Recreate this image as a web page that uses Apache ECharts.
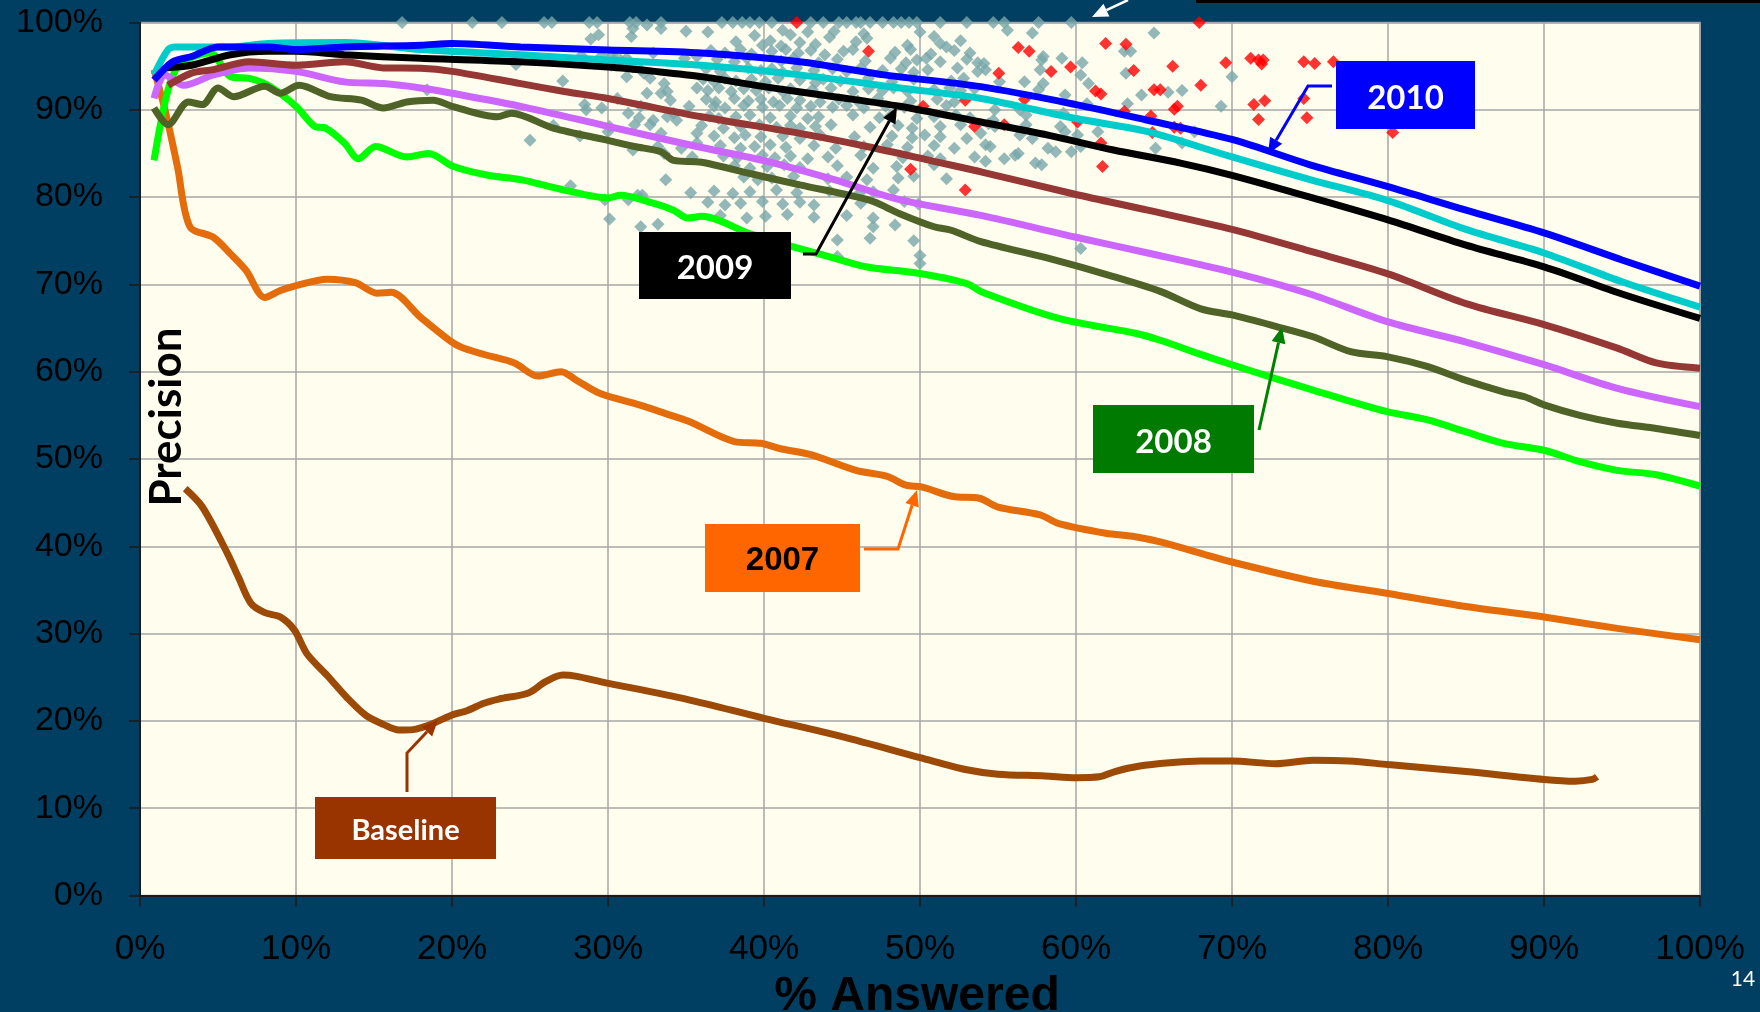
<!DOCTYPE html>
<html>
<head>
<meta charset="utf-8">
<title>Precision vs % Answered</title>
<script src="https://cdn.jsdelivr.net/npm/echarts@6/dist/echarts.min.js"></script>
<style>
  html, body { margin: 0; padding: 0; background: #013f62; }
  #chart { width: 1760px; height: 1012px; }
</style>
</head>
<body>
<div id="chart"></div>
<script>
// % answered (x) vs precision (y)
const run2010 = [[0.9,93.4],[2.1,95.5],[3.3,96.1],[5,97.2],[8.2,97.2],[10,96.9],[13.1,97.2],[18,97.4],[20,97.6],[24.4,97.2],[30,96.85],[36,96.5],[42.3,95.5],[47.7,94.0],[53.9,92.65],[60,90.6],[64.6,88.8],[70,86.6],[75,83.7],[80,81.2],[85,78.5],[90,75.9],[95,72.8],[100,69.8]];
const runCyan = [[0.9,94.0],[1.8,96.9],[2.3,97.2],[5.8,97.2],[8.2,97.6],[13.1,97.7],[18,96.9],[24.4,96.3],[30,95.7],[36,95.1],[42.3,94.0],[48.7,92.5],[53.9,91.3],[60,89.0],[64.6,87.5],[70,84.6],[75,82.0],[80,79.6],[85,76.3],[90,73.6],[95,70.3],[100,67.4]];
const run2009 = [[1.6,94.8],[3.3,95.1],[5.8,96.3],[8.2,96.7],[10,96.7],[13.1,96.3],[18,95.9],[24.4,95.5],[30,94.9],[33,94.4],[36,93.8],[40.2,92.6],[44.5,91.5],[48.7,90.4],[53.9,88.6],[58.2,87.1],[62.4,85.4],[66.7,83.9],[70,82.5],[75,80.0],[80,77.4],[85,74.5],[90,72.0],[95,68.9],[100,66.1]];
const runRed = [[1.8,92.8],[3.3,94.2],[4.7,94.6],[7,95.5],[10,95.1],[13.1,95.5],[15.6,94.8],[18,94.75],[20,94.4],[24.4,93.0],[27.2,92.1],[30,91.3],[36,89.2],[42.3,87.3],[46.6,85.8],[50.9,84.1],[53.9,82.9],[60,80.3],[64.6,78.5],[70,76.3],[75,73.8],[80,71.2],[85,67.8],[90,65.4],[94.7,62.7],[97.2,61.0],[100,60.4]];
const runViolet = [[0.9,91.3],[1.6,94.0],[2.8,92.8],[4.7,94.0],[7,94.8],[10,94.4],[13.1,93.2],[15.6,93.0],[18,92.5],[20,91.9],[24.4,90.4],[30,88.1],[35.7,85.8],[40.2,84.1],[44.5,82.0],[48.7,79.7],[53.9,77.9],[60,75.4],[64.6,73.6],[70,71.4],[75,68.9],[80,65.7],[85,63.4],[90,60.8],[94.7,58.1],[100,56.0]];
const run2008 = [[0.9,90.2],[1.8,88.3],[3.1,90.9],[4,90.6],[5,92.5],[6,91.5],[8,92.7],[9,91.9],[10.2,92.8],[12.2,91.5],[14.2,91.1],[15.6,90.2],[17.1,90.9],[18.8,91.1],[20,90.4],[22.9,89.2],[23.8,89.6],[26.5,87.9],[30,86.5],[31.7,85.8],[33.4,85.2],[34.2,84.2],[36,84.0],[39.1,82.7],[42.3,81.4],[45.5,80.2],[47,79.5],[48.7,78.1],[50.9,76.6],[52,76.2],[53.9,74.9],[58.2,73.0],[62.4,70.9],[65.4,69.2],[68,67.2],[70,66.5],[72.8,65.2],[75.2,64.0],[77.6,62.3],[80,61.7],[82.5,60.6],[85,59.0],[87.4,57.7],[88.8,57.1],[90,56.2],[92.3,55.0],[94.7,54.1],[97.2,53.5],[100,52.7]];
const runGreen = [[0.9,84.2],[1.8,92.3],[2.6,95.3],[4.5,96.5],[5.8,93.8],[7,93.6],[8.2,92.8],[10,90.4],[11.2,88.1],[11.9,87.9],[13.1,86.2],[14,84.4],[15.1,85.8],[17.1,84.6],[18.5,85.0],[20.1,83.5],[22.3,82.5],[24.4,82.0],[27.2,80.8],[30,79.9],[30.8,80.2],[32.9,79.3],[34.2,78.5],[35.1,77.6],[36,77.8],[39.1,75.8],[42.3,74.1],[44.5,73.0],[46.6,72.0],[49.8,71.3],[53,70.1],[54,69.1],[58.9,66.1],[63.8,64.4],[65.4,63.6],[67.8,62.1],[70,60.8],[72.8,59.2],[75.2,57.9],[77.6,56.6],[80,55.4],[82.5,54.5],[85,53.1],[87.4,51.8],[90,51.0],[92.3,49.7],[94.7,48.7],[97.2,48.2],[100,46.9]];
const run2007 = [[0.9,94.6],[1.6,90.0],[2.4,83.5],[3.2,76.6],[4.7,75.4],[5.8,73.5],[6.8,71.6],[8,68.5],[9,69.3],[9.9,69.8],[12,70.6],[13.8,70.2],[15.2,69.0],[16.1,69.1],[18,66.2],[19.9,63.5],[20.6,62.8],[22,62.0],[24,61.0],[25.5,59.5],[27,60.0],[28,59.0],[29.5,57.5],[32,56.2],[33.7,55.2],[35.2,54.3],[38.1,52.0],[39.8,51.8],[41,51.2],[43,50.5],[45.9,48.7],[47.9,48.0],[49.1,47.0],[50.1,46.8],[52.1,45.7],[53.8,45.5],[55,44.5],[57.7,43.6],[58.9,42.6],[61.9,41.5],[63.8,41.1],[65.4,40.5],[68,39.2],[70,38.2],[75.2,36.0],[80,34.6],[85,33.1],[90,31.9],[94.7,30.6],[100,29.3]];
const runBaseline = [[2.9,46.6],[4,44.5],[5.6,39.2],[6.3,36.5],[7.1,33.5],[8,32.4],[9,31.9],[9.9,30.4],[10.7,27.7],[12,25.2],[13.3,22.6],[14.5,20.6],[15.6,19.6],[16.6,18.95],[17.5,19.0],[18.5,19.5],[19.9,20.6],[21,21.2],[22,22.0],[23,22.5],[24.9,23.2],[26,24.5],[27.1,25.25],[28,25.1],[29.5,24.5],[35,22.5],[40,20.3],[45,18.2],[50,15.8],[53,14.4],[55,13.9],[58,13.7],[60,13.5],[61.5,13.6],[62.5,14.2],[64,14.8],[66,15.2],[68,15.4],[70,15.4],[72.8,15.1],[75.2,15.5],[77.5,15.4],[80,15.0],[85,14.2],[90,13.3],[92,13.1],[93.1,13.3],[93.4,13.6]];

// individual runs (grey) and other runs (red)
const greyRuns = [
  [16.8,100],[18.4,92.3],[21.3,100],[23.2,100],[24.1,95.2],[25.0,86.5],[25.9,100],[26.4,100],[26.5,88.2],[27.1,93.3],[27.6,81.3],[28.2,87.0],[28.3,96.2],[28.5,90.6],[28.6,90.0],[28.8,100],[28.9,98.1],[29.3,100],[29.4,98.6],[29.6,96.2],[29.6,90.2],[29.8,79.7],[30.0,87.5],[30.1,88.1],[30.1,77.5],[30.2,95.1],[30.3,96.3],[30.4,95.7],[30.6,91.3],[30.8,95.7],[31.0,95.3],[31.2,95.9],[31.2,93.8],[31.3,89.6],[31.3,79.7],[31.4,100],[31.5,98.4],[31.6,99.3],[31.6,94.9],[31.6,85.4],[31.7,88.3],[31.8,100],[31.9,80.2],[32.0,89.1],[32.1,94.6],[32.1,90.4],[32.1,76.6],[32.2,80.2],[32.3,94.2],[32.5,99.7],[32.5,91.9],[32.7,93.6],[32.7,88.3],[32.9,96.5],[32.9,88.8],[33.2,85.8],[33.2,76.9],[33.4,100],[33.4,99.3],[33.4,91.9],[33.4,87.3],[33.6,93.0],[33.6,85.0],[33.7,82.0],[33.8,92.1],[33.8,89.2],[34.0,91.1],[34.2,89.6],[34.4,88.8],[34.7,85.6],[34.9,95.9],[35.0,99.0],[35.2,90.4],[35.3,80.5],[35.4,84.6],[35.7,96.1],[35.7,92.5],[35.7,87.3],[35.7,86.2],
  [37.3,100],[38.0,100],[38.6,100],[39.1,100],[39.7,100],[40.5,100],[43.0,100],[43.8,100],[44.8,100],[45.3,100],[45.9,100],[46.2,100],[46.8,100],[47.6,100],[48.3,100],[48.8,100],[49.3,100],[49.8,100],[51.3,100],[53.0,100],
  [36.4,98.9],[39.4,98.5],[41.2,99.1],[41.7,98.6],[42.8,98.9],[44.2,98.3],[44.5,99.0],[46.4,98.7],[46.6,98.2],[50.0,98.9],[50.9,98.4],
  [38.2,97.8],[39.9,97.4],[40.4,97.9],[41.1,97.3],[42.3,97.7],[43.3,97.5],[45.9,97.8],[49.2,97.4],[51.3,97.6],[51.7,97.2],[52.6,97.9],
  [36.6,96.8],[37.5,96.5],[38.5,96.9],[39.2,96.4],[40.5,96.7],[41.4,96.9],[42.2,96.5],[43.0,96.8],[43.9,96.3],[45.1,96.7],[45.7,96.9],[48.4,96.6],[49.4,96.9],[50.7,96.4],[52.2,96.8],[53.2,96.5],
  [37.0,95.8],[38.1,95.5],[38.9,95.9],[41.1,95.6],[41.9,95.9],[43.5,95.4],[44.7,95.8],[46.5,95.6],[48.1,95.9],[49.1,95.4],[49.8,95.7],[50.4,95.9],[51.3,95.5],[53.0,95.8],[53.7,95.4],
  [36.3,94.7],[37.2,94.4],[39.0,94.8],[39.8,94.5],[40.5,94.7],[41.2,94.3],[42.1,94.8],[43.2,94.5],[44.4,94.7],[45.3,94.4],[46.2,94.8],[47.6,94.5],[48.8,94.7],[49.6,94.3],[50.5,94.6],[52.4,94.8],[53.7,94.4],
  [36.1,93.5],[36.8,93.2],[37.5,93.6],[38.2,93.3],[39.2,93.5],[40.1,93.2],[40.9,93.6],[42.3,93.4],[43.3,93.1],[43.8,93.5],[44.9,93.3],[46.7,93.6],[48.2,93.2],[49.6,93.5],[52.0,93.3],[52.8,93.6],
  [36.4,92.2],[37.1,92.5],[37.9,92.1],[38.7,92.4],[39.5,92.2],[40.3,92.5],[41.2,92.1],[41.7,92.4],[43.1,92.3],[44.3,92.5],[45.7,92.1],[46.7,92.4],[47.6,92.2],[48.3,92.5],[49.2,92.1],[50.9,92.3],[51.9,92.5],[52.6,92.2],[53.5,92.4],
  [36.3,91.2],[36.9,90.9],[38.1,91.3],[39.0,91.0],[39.8,91.2],[40.6,90.9],[41.5,91.3],[42.3,91.1],[43.6,90.9],[44.8,91.2],[46.0,91.0],[47.3,91.3],[49.4,91.0],[51.1,91.2],[52.2,90.9],
  [36.8,90.4],[37.5,90.2],[38.7,90.5],[39.9,90.3],[41.0,90.5],[42.1,90.2],[43.0,90.4],[44.4,90.3],[45.3,90.5],[46.4,90.2],[47.8,90.4],[49.0,90.3],[51.7,90.5],
  [36.5,89.3],[37.1,89.0],[38.2,89.2],[39.1,89.4],[40.4,89.1],[41.7,89.3],[42.8,89.0],[43.5,89.2],[45.7,89.4],[47.4,89.1],[48.1,89.3],[49.8,89.0],[50.9,89.2],[52.3,89.4],[53.2,89.1],
  [36.0,88.2],[37.4,87.9],[38.5,88.1],[39.7,88.3],[40.8,88.0],[41.7,88.2],[42.3,87.9],[43.3,88.1],[44.3,88.3],[46.8,88.0],[48.6,88.2],[49.5,87.9],[51.3,88.1],[52.6,88.3],
  [36.8,87.0],[38.1,86.8],[38.8,87.1],[39.8,86.9],[41.2,87.0],[42.3,86.7],[43.6,87.1],[45.8,86.9],[48.2,87.0],[49.5,86.8],[50.3,87.1],[51.3,86.9],[53.0,86.7],
  [37.2,85.9],[38.5,85.6],[39.4,85.8],[40.4,86.0],[41.4,85.7],[43.2,85.9],[44.6,85.6],[46.4,85.8],[47.9,86.0],[49.2,85.7],[50.9,85.9],[52.2,85.6],
  [37.4,84.7],[38.3,84.5],[39.9,84.8],[40.7,84.5],[41.7,84.7],[42.8,84.4],[44.1,84.6],[46.2,84.8],[48.9,84.5],[50.5,84.7],[51.3,84.4],[53.5,84.6],
  [38.1,83.6],[39.1,83.3],[40.2,83.5],[41.3,83.7],[42.3,83.4],[44.7,83.6],[47.0,83.3],[48.5,83.5],[50.9,83.7],
  [38.7,82.3],[39.6,82.0],[40.5,82.2],[41.9,82.4],[44.1,82.1],[45.3,82.3],[46.6,82.0],[48.6,82.2],[49.6,82.4],[51.7,82.1],
  [36.8,80.7],[38.0,80.4],[39.1,80.6],[40.8,80.8],[42.1,80.5],[44.2,80.7],[46.1,80.4],[47.0,80.6],[48.3,80.8],
  [36.4,79.4],[37.5,79.1],[38.5,79.3],[39.9,79.5],[41.2,79.2],[42.3,79.4],[43.2,79.1],[46.2,79.3],[49.0,79.5],[49.9,79.2],
  [37.2,77.9],[38.9,77.6],[40.1,77.8],[41.5,78.0],[43.2,77.7],[45.3,77.9],[47.0,77.6],
  [47.0,76.6],[48.4,76.8],[44.7,75.1],[46.8,75.3],[49.6,75.0],[44.7,73.2],[50.0,73.3],[50.0,72.4],
  [54.7,100],[55.4,100],[57.6,100],[59.7,100],[55.6,99.1],[57.2,98.8],[65.0,98.8],[63.1,96.7],[63.5,96.7],[57.9,96.1],[57.8,95.7],[59.1,95.9],[60.4,95.4],[54.1,95.3],[54.2,94.6],[57.7,94.6],[60.3,94.0],[63.2,94.2],[70.0,93.8],[55.1,93.2],[56.7,93.2],[60.8,93.0],[57.9,93.0],[59.3,91.7],[57.6,92.3],[64.2,91.7],[65.9,92.0],[66.8,92.2],[63.3,90.7],[60.7,90.7],[69.3,90.4],[54.8,90.0],[56.4,90.0],[56.8,89.4],[59.2,89.6],[54.4,88.4],[54.8,88.1],[54.7,88.8],[56.8,88.3],[59.0,88.1],[53.9,87.3],[56.4,87.1],[57.2,86.7],[59.3,87.5],[60.1,87.1],[61.4,87.5],[67.6,87.5],[66.8,86.2],[54.2,86.0],[54.5,85.8],[58.2,85.6],[58.7,85.2],[59.7,85.2],[60.3,85.8],[56.3,85.0],[56.1,84.8],[55.4,84.4],[54.2,84.1],[57.4,83.9],[57.8,83.7],[65.1,85.6],[60.3,74.1]
];
const redRuns = [
  [42.1,100],[46.7,96.7],[52.9,91.1],[50.2,90.4],[53.5,88.1],[49.4,83.2],[52.9,80.8],
  [67.9,100],[61.9,97.6],[63.2,97.5],[56.3,97.15],[57.0,96.7],[59.65,94.9],[63.7,94.5],[58.4,94.4],[66.2,95.0],[69.6,95.4],[71.2,95.9],[55.05,94.2],[61.25,92.15],[61.6,91.8],[65.0,92.3],[65.4,92.3],[68.0,92.8],[56.7,91.2],[66.5,90.4],[66.3,90.05],[71.4,90.6],[63.1,89.8],[64.8,89.3],[55.4,88.3],[60.1,88.6],[66.3,88.0],[66.7,87.9],[64.9,87.4],[61.6,86.2],[61.7,83.5],[71.7,88.9],
  [71.7,95.7],[71.9,95.25],[72.0,95.7],[74.6,95.5],[75.3,95.3],[76.5,95.5],[72.1,91.05],[74.6,91.3],[74.8,89.1],[80.3,87.4]
];

const chart = echarts.init(document.getElementById('chart'));

function lineSeries(data, color) {
    return {
        type: 'line',
        data: data,
        showSymbol: false,
        smooth: 0.3,
        lineStyle: { color: color, width: 7 },
        itemStyle: { color: color }
    };
}

function arrow(points, color, width) {
    const tip = points[points.length - 1];
    const prev = points[points.length - 2];
    const dx = tip[0] - prev[0], dy = tip[1] - prev[1];
    const len = Math.hypot(dx, dy);
    const ux = dx / len, uy = dy / len;
    const L = 16, W = 7;
    const bx = tip[0] - ux * L, by = tip[1] - uy * L;
    const line = points.slice(0, -1).concat([[bx, by]]);
    return [
        { type: 'polyline', z: 50, shape: { points: line }, style: { stroke: color, lineWidth: width, fill: null } },
        { type: 'polygon', z: 50, shape: { points: [tip, [bx - uy * W, by + ux * W], [bx + uy * W, by - ux * W]] }, style: { fill: color } }
    ];
}

// label boxes of the slide (pixels)
const callouts = [
    { text: '2010', box: [1336, 61, 139, 68], fill: '#0000ff', color: '#ffffff', font: 'bold 33px Lato', path: [[1332, 86], [1308, 86], [1268, 154]], stroke: '#0000ff' },
    { text: '2009', box: [639, 232, 152, 67], fill: '#000000', color: '#ffffff', font: 'bold 33px Lato', path: [[803, 254], [816, 254], [897, 107]], stroke: '#000000' },
    { text: '2008', box: [1093, 405, 161, 68], fill: '#007a00', color: '#ffffff', font: 'bold 33px Lato', path: [[1259, 430], [1282, 327]], stroke: '#008000' },
    { text: '2007', box: [705, 524, 155, 68], fill: '#ff6600', color: '#000000', font: 'bold 33px "Liberation Sans"', path: [[864, 549], [898, 549], [917, 490]], stroke: '#ff6600' },
    { text: 'Baseline', box: [315, 797, 181, 62], fill: '#993300', color: '#ffffff', font: 'bold 29px Lato', path: [[407, 792], [407, 753], [438, 720]], stroke: '#993300' }
];

const graphics = [];
callouts.forEach(function (c) {
    graphics.push({ type: 'rect', z: 50, shape: { x: c.box[0], y: c.box[1], width: c.box[2], height: c.box[3] }, style: { fill: c.fill } });
    graphics.push({ type: 'text', z: 51, x: c.box[0] + c.box[2] / 2, y: c.box[1] + c.box[3] / 2 + 3,
        style: { text: c.text, fill: c.color, font: c.font, align: 'center', verticalAlign: 'middle', textAlign: 'center', textVerticalAlign: 'middle' } });
    arrow(c.path, c.stroke, 3).forEach(function (g) { graphics.push(g); });
});

// bits of the slide cut off at the top
graphics.push({ type: 'rect', z: 50, shape: { x: 1196, y: 0, width: 564, height: 3 }, style: { fill: '#000000' } });
arrow([[1128, 0], [1092, 17]], '#ffffff', 2.5).forEach(function (g) { graphics.push(g); });

graphics.push({ type: 'text', z: 60, x: 167, y: 417, rotation: Math.PI / 2,
    style: { text: 'Precision', fill: '#000000', font: 'bold 44px Lato', align: 'center', verticalAlign: 'middle', textAlign: 'center', textVerticalAlign: 'middle' } });
graphics.push({ type: 'text', z: 60, x: 917, y: 997,
    style: { text: '% Answered', fill: '#000000', font: 'bold 48px "Liberation Sans"', align: 'center', verticalAlign: 'middle', textAlign: 'center', textVerticalAlign: 'middle' } });
graphics.push({ type: 'text', z: 60, x: 1743, y: 979,
    style: { text: '14', fill: '#ffffff', font: '21px Lato', align: 'center', verticalAlign: 'middle', textAlign: 'center', textVerticalAlign: 'middle' } });

const axisCommon = {
    type: 'value',
    min: 0,
    max: 100,
    interval: 10,
    axisLine: { show: true, lineStyle: { color: '#1a1a1a', width: 2 } },
    axisTick: { show: true, length: 11, lineStyle: { color: '#1a1a1a', width: 1.5 } },
    splitLine: { show: true, lineStyle: { color: '#a6a6a6', width: 1.5 } }
};

const option = {
    backgroundColor: '#013f62',
    animation: false,
    grid: {
        left: 140,
        right: 60,
        top: 22.5,
        bottom: 116.5,
        show: true,
        backgroundColor: '#fffdee',
        borderColor: '#a6a6a6',
        borderWidth: 1.5,
        containLabel: false,
        outerBoundsMode: 'none'
    },
    xAxis: Object.assign({}, axisCommon, {
        axisLabel: { formatter: '{value}%', color: '#000000', fontFamily: 'Liberation Sans', fontSize: 35, margin: 36 }
    }),
    yAxis: Object.assign({}, axisCommon, {
        axisLabel: { formatter: '{value}%', color: '#000000', fontFamily: 'Liberation Sans', fontSize: 34, margin: 37 }
    }),
    series: [
        lineSeries(runBaseline, '#9c4a06'),
        lineSeries(run2007, '#e46c0a'),
        lineSeries(runGreen, '#00ff00'),
        lineSeries(run2008, '#4f6228'),
        lineSeries(runViolet, '#cc66ff'),
        lineSeries(runRed, '#953735'),
        lineSeries(run2009, '#000000'),
        lineSeries(runCyan, '#00cccc'),
        lineSeries(run2010, '#0000ff'),
        {
            type: 'scatter',
            data: greyRuns,
            symbol: 'diamond',
            symbolSize: 13,
            clip: false,
            itemStyle: { color: '#78a6a9' }
        },
        {
            type: 'scatter',
            data: redRuns,
            symbol: 'diamond',
            symbolSize: 13,
            clip: false,
            itemStyle: { color: '#ff0000' }
        }
    ],
    graphic: graphics
};

chart.setOption(option);
window.addEventListener('resize', function () { chart.resize(); });
</script>
</body>
</html>
